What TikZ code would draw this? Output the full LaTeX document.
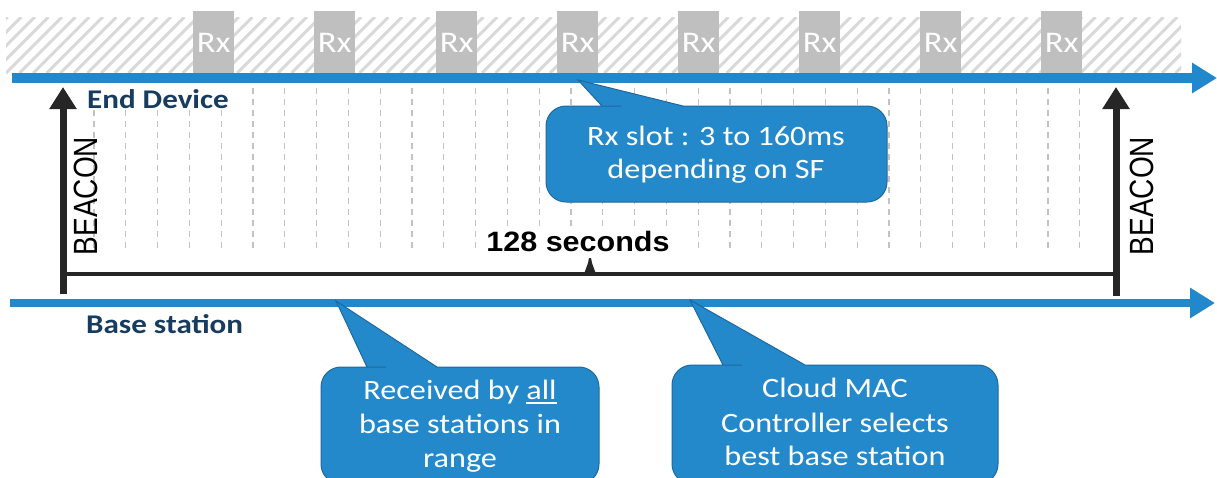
\documentclass[tikz,border=0pt]{standalone}
\usepackage{fontspec}
\usetikzlibrary{arrows.meta}
\newfontfamily\calfont[FakeStretch=1.15]{Carlito}
\newfontfamily\arifont{Liberation Sans}
\newfontfamily\aribfont[FakeStretch=1.09]{Liberation Sans}
\definecolor{lblue}{RGB}{34,136,204}
\definecolor{cblue}{RGB}{36,137,203}
\definecolor{cedge}{RGB}{28,105,160}
\definecolor{navy}{RGB}{23,60,95}
\definecolor{rxgray}{RGB}{191,191,191}
\definecolor{hatchgray}{RGB}{217,217,217}
\definecolor{dashgray}{RGB}{195,195,195}
\definecolor{blk}{RGB}{38,38,38}
\newcommand\myul[1]{\setbox0\hbox{#1}\rlap{\rule[-5pt]{\wd0}{1.8pt}}\box0}
\tikzset{
  rxbox/.style={fill=rxgray, draw=none, minimum width=41pt, minimum height=64pt, inner sep=0pt,
    anchor=north west, text=white, font=\calfont\fontsize{30}{32}\selectfont},
  vdash/.style={draw=dashgray, line width=1.2pt, dash pattern=on 6pt off 5pt},
  timeline/.style={draw=lblue, line width=#1},
  beacon/.style={draw=blk, line width=7pt, -{Triangle[width=26pt,length=22pt]}},
  callout/.style={fill=cblue, draw=cedge, line width=1pt},
  ctext/.style={anchor=base, inner sep=0pt, text=white, font=\calfont\fontsize{28}{33}\selectfont},
  lbl/.style={anchor=base west, inner sep=1pt, text=navy, font=\calfont\bfseries\fontsize{27}{30}\selectfont},
  beacontext/.style={inner sep=0pt, text=black, font=\arifont\fontsize{28}{30}\selectfont},
}
\begin{document}
\begin{tikzpicture}[x=1pt,y=-1pt]
\useasboundingbox (0,0) rectangle (1217,477);
\clip (0,0) rectangle (1217,477);
% hatched band
\begin{scope}
  \clip (6,17) rectangle (1181,73);
  \foreach \i in {-5,...,90} {
    \draw[hatchgray, line width=3pt] ({6+13.6*\i},73) -- ({62+13.6*\i},17);
  }
\end{scope}
% Rx slots
\foreach \n/\x in {1/193,2/314,3/436,4/557,5/678,6/799,7/920,8/1041} {
  \node[rxbox] (rx\n) at (\x,11) {Rx};
}
% dashed grid
\foreach \k in {0,...,31} {
  \draw[vdash] ({94+31.8*\k},88) -- ({94+31.8*\k},250);
}
% timelines
\coordinate (ts) at (12,78);
\coordinate (te) at (1217,78);
\coordinate (bs) at (10,303);
\coordinate (be) at (1215,303);
\draw[timeline=10pt, -{Triangle[width=29pt,length=25pt]}] (ts) -- (te);
\draw[timeline=8pt, -{Triangle[width=29pt,length=25pt]}] (bs) -- (be);
% beacon arrows and 128 s span
\coordinate (lb0) at (63,294);
\coordinate (lb1) at (63,87);
\coordinate (rb0) at (1116,296);
\coordinate (rb1) at (1116,87);
\coordinate (sl) at (63,274);
\coordinate (sr) at (1116,274);
\draw[beacon] (lb0) -- (lb1);
\draw[beacon] (rb0) -- (rb1);
\draw[blk, line width=3.5pt] (sl) -- (sr);
\fill[blk] (584,274) -- (588,263) -- (589,258) -- (591,258) -- (592,263) -- (596,274) -- cycle;
\node[beacontext, xscale=1.2, rotate=90] (bcl) at (86,196) {BEACON};
\node[beacontext, xscale=1.2, rotate=90] (bcr) at (1142,196) {BEACON};
\node[anchor=base, inner sep=2pt, fill=white, font=\aribfont\bfseries\fontsize{28}{30}\selectfont] (sec) at (578,251) {128 seconds};
% labels
\node[lbl, fill=white] (ed) at (86,108) {End Device};
\node[lbl] (bst) at (85,333) {Base station};
% callout 1
\path[callout] (546,154) [rounded corners=20pt] -- (546,106) -- (601,106) [sharp corners] -- (602,106) -- (578,80) -- (683,106) -- (684,106) [rounded corners=20pt] -- (887,106) -- (887,202) -- (546,202) -- cycle;
\node[ctext] (c1a) at (716,145) {Rx slot : 3 to 160ms};
\node[ctext] (c1b) at (716,178) {depending on SF};
% callout 2
\path[callout] (321,420) [rounded corners=20pt] -- (321,367) -- (366,367) [sharp corners] -- (367,367) -- (336,301) -- (437,367) -- (438,367) [rounded corners=20pt] -- (599,367) -- (599,484) -- (321,484) -- cycle;
\node[ctext] (c2a) at (460,399) {Received by \myul{all}};
\node[ctext] (c2b) at (460,433) {base stations in};
\node[ctext] (c2c) at (460,467) {range};
% callout 3
\path[callout] (672,420) [rounded corners=20pt] -- (672,365) -- (722,365) [sharp corners] -- (723,365) -- (690,300) -- (805,365) -- (806,365) [rounded corners=20pt] -- (998,365) -- (998,484) -- (672,484) -- cycle;
\node[ctext] (c3a) at (835,397) {Cloud MAC};
\node[ctext] (c3b) at (835,432) {Controller selects};
\node[ctext] (c3c) at (835,465) {best base station};
\end{tikzpicture}
\end{document}
